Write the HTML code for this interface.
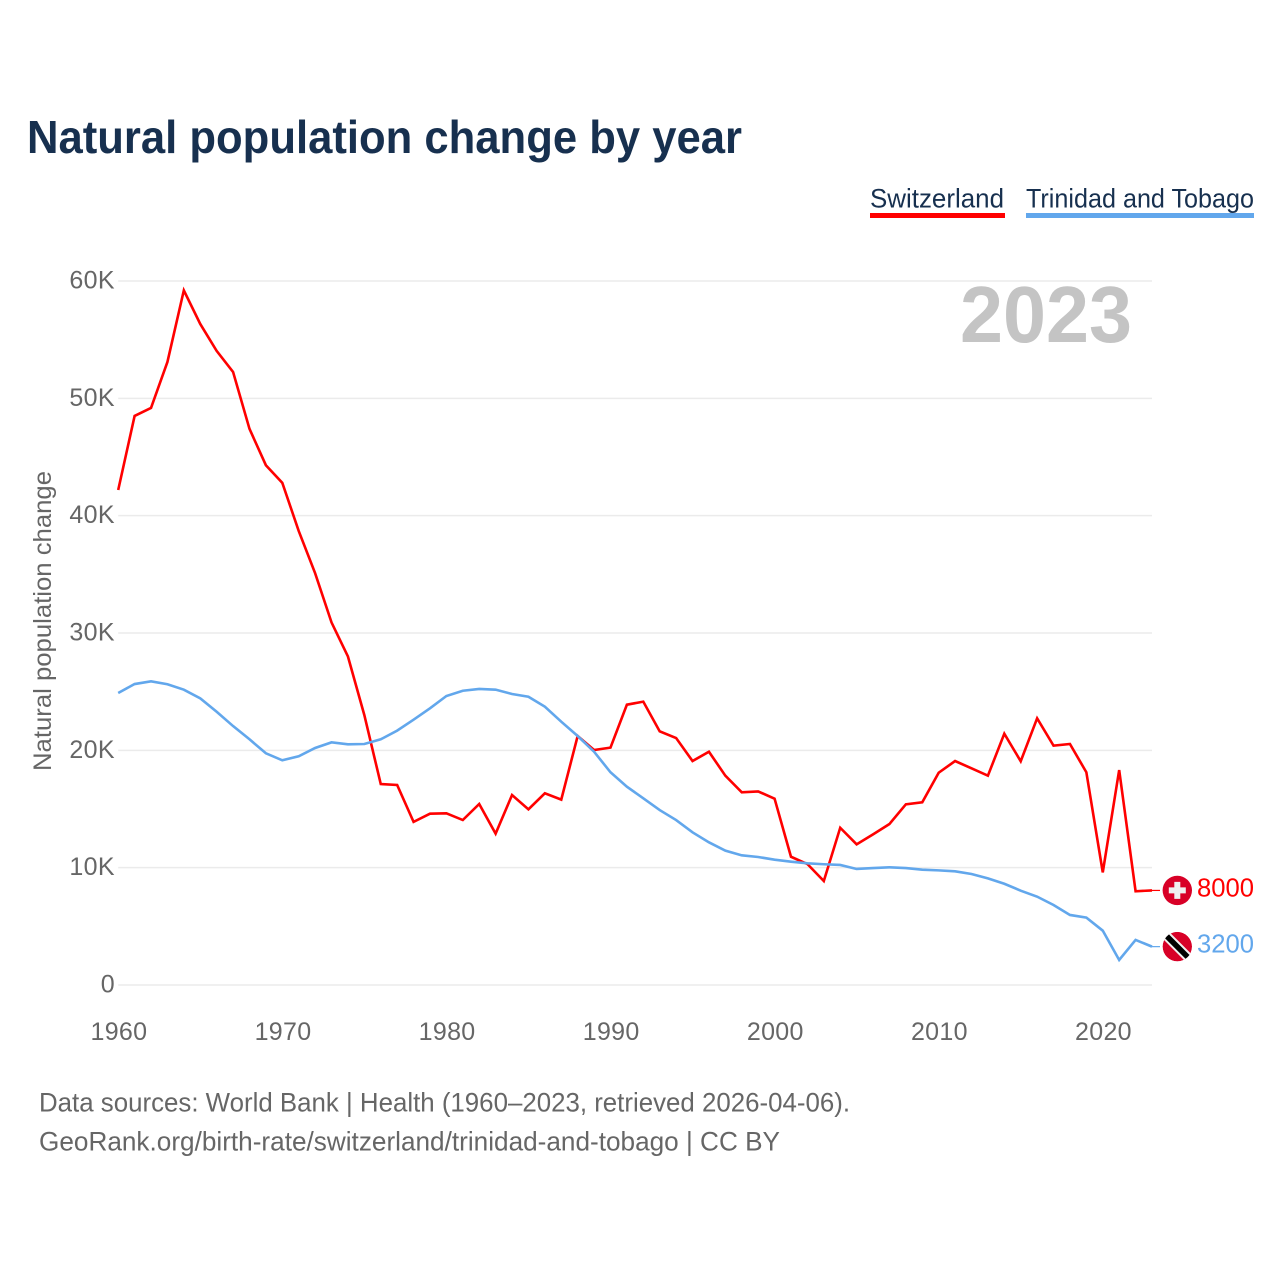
<!DOCTYPE html>
<html lang="en">
<head>
<meta charset="utf-8">
<title>Natural population change by year</title>
<style>
html,body{margin:0;padding:0;background:#fff;width:1280px;height:1280px;overflow:hidden}
svg{display:block}
text{font-family:"Liberation Sans",sans-serif}
</style>
</head>
<body>
<svg id="chart" xmlns="http://www.w3.org/2000/svg" width="1280" height="1280" viewBox="0 0 1280 1280">
  <rect width="1280" height="1280" fill="#fff"/>
  <text x="27" y="153" font-size="46" font-weight="700" fill="#17304f" textLength="715" lengthAdjust="spacingAndGlyphs">Natural population change by year</text>

  <g>
    <g>
      <text x="870" y="207.5" font-size="26.5" fill="#17304f" textLength="134" lengthAdjust="spacingAndGlyphs">Switzerland</text>
      <rect x="870" y="213" width="135" height="5" fill="#ff0000"/>
    </g>
    <g>
      <text x="1026" y="207.5" font-size="26.5" fill="#17304f" textLength="228" lengthAdjust="spacingAndGlyphs">Trinidad and Tobago</text>
      <rect x="1026" y="213" width="228" height="5" fill="#62a7ec"/>
    </g>
  </g>

  <g id="grid"></g>
  <text x="960" y="342" font-size="80" font-weight="700" fill="#c4c4c4" textLength="172" lengthAdjust="spacingAndGlyphs">2023</text>
  <g id="yticks"></g>
  <g id="xticks"></g>
  <text transform="translate(51,771) rotate(-90)" font-size="25" fill="#666666" textLength="300" lengthAdjust="spacingAndGlyphs">Natural population change</text>
  <g id="series"></g>
  <g id="endlabels"></g>

  <text x="39" y="1111.5" font-size="26.5" fill="#666666" textLength="811" lengthAdjust="spacingAndGlyphs">Data sources: World Bank | Health (1960–2023, retrieved 2026-04-06).</text>
  <text x="39" y="1150.5" font-size="26.5" fill="#666666" textLength="741" lengthAdjust="spacingAndGlyphs">GeoRank.org/birth-rate/switzerland/trinidad-and-tobago | CC BY</text>
</svg>
<script>
const startYear = 1960;
const endYear = 2023;
const xTickYears = [1960, 1970, 1980, 1990, 2000, 2010, 2020];
const yTickValues = [0, 10000, 20000, 30000, 40000, 50000, 60000];
const yTickLabels = ["0", "10K", "20K", "30K", "40K", "50K", "60K"];
const switzerlandValues = [
  42190, 48500, 49180, 53100, 59200, 56340, 54040, 52250, 47400, 44300,
  42800, 38700, 35100, 30900, 28000, 23000, 17130, 17050, 13900, 14600,
  14630, 14060, 15430, 12900, 16190, 14970, 16340, 15800, 21220, 20030,
  20230, 23890, 24150, 21620, 21050, 19090, 19880, 17840, 16420, 16500,
  15880, 10930, 10310, 8860, 13400, 11990, 12840, 13720, 15400, 15570,
  18090, 19090, 18470, 17840, 21420, 19070, 22730, 20400, 20540, 18130,
  9600, 18320, 7990, 8060
];
const trinidadValues = [
  24890, 25650, 25880, 25630, 25170, 24430, 23290, 22070, 20940, 19750,
  19150, 19490, 20200, 20680, 20510, 20540, 20940, 21680, 22610, 23580,
  24630, 25080, 25230, 25170, 24800, 24570, 23720, 22440, 21220, 19880,
  18130, 16900, 15910, 14910, 14060, 13010, 12160, 11450, 11050, 10910,
  10680, 10510, 10370, 10290, 10230, 9890, 9970, 10030, 9970, 9830,
  9770, 9690, 9460, 9090, 8630, 8040, 7530, 6820, 5970, 5740,
  4630, 2130, 3840, 3270
];
const switzerlandLabel = "8000";
const trinidadLabel = "3200";

const NS = "http://www.w3.org/2000/svg";
const plotLeft = 118.2, plotRight = 1152, plotBottom = 985, plotTop = 281;
function xScale(year) {
  return plotLeft + (year - startYear) / (endYear - startYear) * (plotRight - plotLeft);
}
function yScale(value) {
  return plotBottom - value / 60000 * (plotBottom - plotTop);
}
function make(tag, attrs, parent, text) {
  const el = document.createElementNS(NS, tag);
  for (const k in attrs) el.setAttribute(k, attrs[k]);
  if (text !== undefined) el.textContent = text;
  parent.appendChild(el);
  return el;
}
function linePoints(values) {
  return values.map((v, i) => xScale(startYear + i).toFixed(2) + "," + yScale(v).toFixed(2)).join(" ");
}

const grid = document.getElementById("grid");
const yticks = document.getElementById("yticks");
const xticks = document.getElementById("xticks");
const series = document.getElementById("series");
const endlabels = document.getElementById("endlabels");

yTickValues.forEach((v, i) => {
  const y = yScale(v);
  if (v !== 0) {
    const gl = make("line", {x1: plotLeft, x2: plotRight, y1: y, y2: y, stroke: "#ebebeb", "stroke-width": 1.5}, grid);
    
    
  } else {
    const gl0 = make("line", {x1: plotLeft, x2: plotRight, y1: y, y2: y, stroke: "#ebebeb", "stroke-width": 1.5}, grid);
    
    
  }
  const t = make("text", {x: 115, y: y + 7.5, "text-anchor": "end", "font-size": 25, fill: "#666666", style: "letter-spacing:.4px"}, yticks, yTickLabels[i]);
  
  
});

xTickYears.forEach((yr) => {
  const t = make("text", {x: xScale(yr) + 0.7, y: 1040, "text-anchor": "middle", "font-size": 25, fill: "#666666", style: "letter-spacing:.3px"}, xticks, String(yr));
  
  
});

const redLine = make("polyline", {points: linePoints(switzerlandValues), fill: "none", stroke: "#ff0000", "stroke-width": 2.6, "stroke-linejoin": "miter"}, series);


const blueLine = make("polyline", {points: linePoints(trinidadValues), fill: "none", stroke: "#62a7ec", "stroke-width": 2.6, "stroke-linejoin": "miter"}, series);



const lastRed = yScale(switzerlandValues[switzerlandValues.length - 1]);
const lastBlue = yScale(trinidadValues[trinidadValues.length - 1]);
const flagX = 1177.3;

const redLead = make("line", {x1: plotRight, x2: 1160, y1: lastRed, y2: lastRed, stroke: "#ff0000", "stroke-width": 1.2}, endlabels);


const blueLead = make("line", {x1: plotRight, x2: 1160, y1: lastBlue, y2: lastBlue, stroke: "#62a7ec", "stroke-width": 1.2}, endlabels);



/* Swiss flag */
const chFlag = make("g", {transform: "translate(" + flagX + "," + lastRed + ")"}, endlabels);


make("circle", {r: 14.7, fill: "#d80027"}, chFlag);
make("path", {d: "M-3-8.5h6v5.5h5.5v6h-5.5v5.5h-6v-5.5h-5.5v-6h5.5z", fill: "#f0f0f0"}, chFlag);

/* Trinidad and Tobago flag */
const defs = make("defs", {}, endlabels);
const clip = make("clipPath", {id: "ttClip"}, defs);
make("circle", {r: 14.7}, clip);
const ttFlag = make("g", {transform: "translate(" + flagX + "," + lastBlue + ")", "clip-path": "url(#ttClip)"}, endlabels);


make("circle", {r: 14.7, fill: "#d80027"}, ttFlag);
make("line", {x1: -14, y1: -14, x2: 14, y2: 14, stroke: "#f0f0f0", "stroke-width": 9.5}, ttFlag);
make("line", {x1: -14, y1: -14, x2: 14, y2: 14, stroke: "#000000", "stroke-width": 5.5}, ttFlag);

const redVal = make("text", {x: 1197, y: lastRed + 6, "font-size": 25.5, fill: "#ff0000", textLength: 57, lengthAdjust: "spacingAndGlyphs"}, endlabels, switzerlandLabel);


const blueVal = make("text", {x: 1197, y: lastBlue + 6, "font-size": 25.5, fill: "#62a7ec", textLength: 57, lengthAdjust: "spacingAndGlyphs"}, endlabels, trinidadLabel);


</script>
</body>
</html>
